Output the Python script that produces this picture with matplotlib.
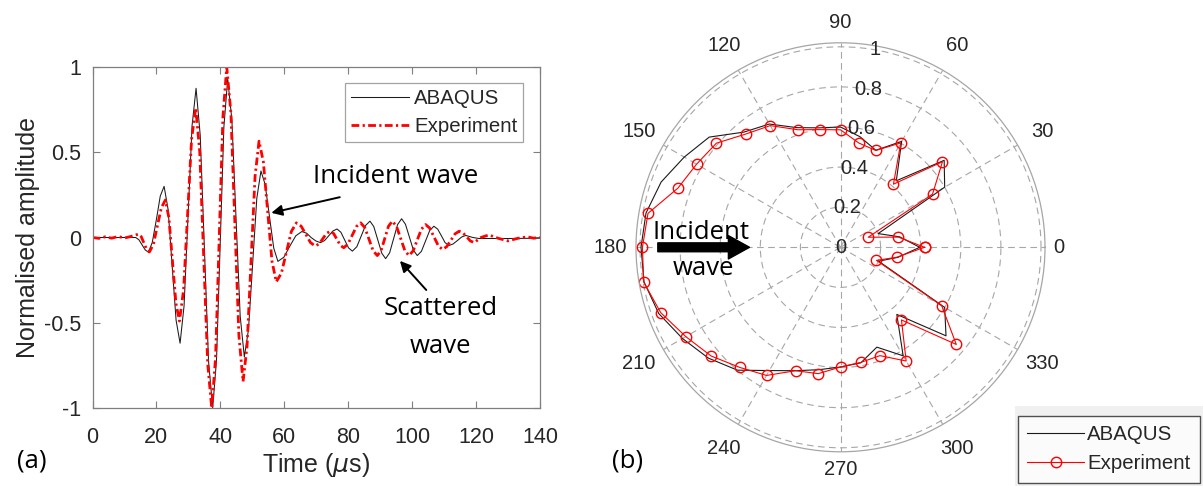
import numpy as np
import matplotlib
matplotlib.use('Agg')
import matplotlib.pyplot as plt
from matplotlib.patches import Rectangle

plt.rcParams['font.family'] = ['Liberation Sans', 'DejaVu Sans']
plt.rcParams['mathtext.fontset'] = 'dejavusans'

# --- (a) time signals (time in us, normalised amplitude)
abaqus_t = [0, 13.5, 14.5, 15.5, 16.5, 17.5, 18.7, 20.0, 21.2, 22.4, 23.65, 24.9, 26.15, 27.4,
            28.65, 29.9, 31.15, 32.4, 33.7, 35.0, 36.3, 37.6, 38.8, 39.95, 41.1, 42.3, 43.6, 44.9,
            46.2, 47.5, 48.8, 50.1, 51.4, 52.7, 54.0, 55.35, 56.7, 58.0, 59.9, 61.75, 63.6, 65.5,
            67.0, 68.4, 69.85, 71.3, 72.6, 73.9, 75.2, 76.5, 77.7, 78.9, 80.1, 81.3, 82.7, 84.05,
            85.4, 86.8, 88.0, 89.25, 90.5, 91.7, 92.95, 94.2, 95.45, 96.7, 97.9, 99.15, 100.4,
            101.6, 102.9, 104.2, 105.5, 106.8, 108.0, 109.15, 110.3, 111.5, 112.8, 114.15, 115.5,
            116.8, 119.0, 121.0, 130.0, 140.0]
abaqus_amp = [0, 0, -0.013, -0.043, -0.073, -0.086, -0.029, 0.107, 0.243, 0.30, 0.165, -0.16,
              -0.485, -0.62, -0.40, 0.13, 0.656, 0.875, 0.60, -0.06, -0.725, -1.0, -0.717, -0.035,
              0.647, 0.93, 0.69, 0.115, -0.461, -0.70, -0.54, -0.155, 0.23, 0.39, 0.312, 0.125,
              -0.062, -0.14, -0.115, -0.05, 0.01, 0.035, 0.025, 0.0, -0.02, -0.03, -0.018, 0.01,
              0.038, 0.05, 0.031, -0.015, -0.061, -0.08, -0.054, 0.008, 0.07, 0.096, 0.064, -0.014,
              -0.092, -0.124, -0.09, -0.007, 0.076, 0.11, 0.078, 0.002, -0.074, -0.106, -0.081,
              -0.02, 0.041, 0.066, 0.049, 0.01, -0.03, -0.047, -0.038, -0.018, 0.003, 0.012, 0.0,
              -0.006, -0.006, -0.004]

exp_t = [0, 2, 4, 6, 8, 10, 12, 14.4, 15.25, 16.1, 16.95, 17.8, 19.05, 20.3, 21.55, 22.8, 23.9,
         25.0, 26.1, 27.2, 28.5, 29.75, 31.0, 32.3, 33.55, 34.8, 36.05, 37.3, 38.5, 39.65, 40.8,
         42.0, 43.3, 44.55, 45.8, 47.1, 48.35, 49.6, 50.85, 52.1, 53.45, 54.8, 56.15, 57.5, 59.1,
         60.65, 62.2, 63.8, 65.3, 66.75, 68.2, 69.7, 70.9, 72.05, 73.2, 74.4, 75.45, 76.5, 77.55,
         78.6, 79.9, 81.25, 82.6, 83.9, 85.2, 86.5, 87.8, 89.1, 90.3, 91.45, 92.6, 93.8, 95.1,
         96.4, 97.7, 99.0, 100.3, 101.6, 102.9, 104.2, 105.5, 106.85, 108.2, 109.5, 110.8, 112.1,
         113.4, 114.7, 115.9, 117.05, 118.2, 119.4, 121.5, 124, 127, 130, 133, 136, 138, 140]
exp_amp = [0.0, -0.005, 0.004, -0.004, 0.006, -0.003, 0.006, 0.02, 0.005, -0.033, -0.07, -0.085,
           -0.04, 0.068, 0.175, 0.22, 0.116, -0.135, -0.386, -0.49, -0.307, 0.135, 0.577, 0.76,
           0.502, -0.12, -0.742, -1.0, -0.707, 0.0, 0.707, 1.0, 0.73, 0.078, -0.575, -0.845,
           -0.638, -0.14, 0.358, 0.565, 0.444, 0.153, -0.139, -0.26, -0.209, -0.087, 0.035, 0.086,
           0.066, 0.018, -0.03, -0.05, -0.037, -0.007, 0.024, 0.037, 0.023, -0.012, -0.046, -0.06,
           -0.039, 0.013, 0.065, 0.086, 0.058, -0.01, -0.078, -0.106, -0.076, -0.005, 0.066,
           0.096, 0.066, -0.005, -0.076, -0.106, -0.079, -0.015, 0.049, 0.076, 0.055, 0.003,
           -0.049, -0.07, -0.054, -0.017, 0.021, 0.037, 0.027, 0.004, -0.02, -0.03, 0.0, 0.015,
           -0.005, -0.02, -0.005, 0.004, -0.004, 0.0]

x_ticks = [0, 20, 40, 60, 80, 100, 120, 140]
y_ticks = [-1, -0.5, 0, 0.5, 1]
y_ticklabels = ['-1', '-0.5', '0', '0.5', '1']

# --- (b) directivity pattern, one value per 10 degrees
angles_deg = [0, 10, 20, 30, 40, 50, 60, 70, 80, 90, 100, 110, 120, 130, 140, 150, 160, 170,
              180, 190, 200, 210, 220, 230, 240, 250, 260, 270, 280, 290, 300, 310, 320, 330,
              340, 350]
abaqus_r = [0.395, 0.30, 0.20, 0.60, 0.675, 0.433, 0.61, 0.515, 0.56, 0.60, 0.605, 0.635, 0.71,
            0.75, 0.855, 0.90, 0.952, 0.985, 0.995, 0.995, 0.965, 0.91, 0.86, 0.80, 0.71, 0.655,
            0.62, 0.597, 0.585, 0.53, 0.625, 0.437, 0.687, 0.60, 0.202, 0.29]
exp_r = [0.419, 0.293, 0.147, 0.530, 0.664, 0.411, 0.601, 0.514, 0.528, 0.586, 0.596, 0.624,
         0.701, 0.737, 0.808, 0.829, 0.863, 0.975, 0.988, 0.997, 0.954, 0.891, 0.843, 0.782,
         0.738, 0.655, 0.640, 0.597, 0.583, 0.575, 0.655, 0.473, 0.754, 0.583, 0.191, 0.285]
theta_labels = [0, 30, 60, 90, 120, 150, 180, 210, 240, 270, 300, 330]
r_rings = [0.2, 0.4, 0.6, 0.8, 1.0]
r_labels = ['0', '0.2', '0.4', '0.6', '0.8', '1']

W, H = 1203, 486
fig = plt.figure(figsize=(W / 100, H / 100), dpi=100)


def fx(px):
    return px / W


def fy(py):
    return 1 - py / H


txt_col = '#262626'
ax_col = '#7f7f7f'
calibri_like = ['Open Sans', 'DejaVu Sans']

# ---------------- (a) ----------------
ax = fig.add_axes([fx(92.5), fy(408), 447.5 / W, 341 / H])
ax.plot(abaqus_t, abaqus_amp, color='#1a1a1a', lw=0.75, label='ABAQUS')
ax.plot(exp_t, exp_amp, color='red', lw=2.0, linestyle=(0, (2.8, 1.2, 0.8, 1.2)),
        label='Experiment')
ax.set_xlim(0, 140)
ax.set_ylim(-1, 1)
ax.set_xticks(x_ticks)
ax.set_yticks(y_ticks)
ax.set_yticklabels(y_ticklabels)
ax.tick_params(direction='in', top=True, right=True, length=5, width=0.8, color=ax_col,
               labelsize=15.5, labelcolor=txt_col)
ax.tick_params(axis='x', pad=14)
ax.tick_params(axis='y', pad=8)
for sp in ax.spines.values():
    sp.set_color(ax_col)
    sp.set_linewidth(0.9)
ax.set_xlabel(r'Time ($\mu$s)', fontsize=18, color=txt_col, labelpad=2)
ax.set_ylabel('Normalised amplitude', fontsize=18, color=txt_col, labelpad=3)

leg = ax.legend(loc='upper right', bbox_to_anchor=(fx(523.3), fy(83)),
                bbox_transform=fig.transFigure, fontsize=14.7, frameon=True, fancybox=False,
                borderpad=0.3, labelspacing=0.45, handlelength=2.85, handletextpad=0.25,
                borderaxespad=0)
leg.get_frame().set_edgecolor('#8c8c8c')
leg.get_frame().set_linewidth(0.9)
for t in leg.get_texts():
    t.set_color(txt_col)

ax.annotate('', xy=(55.1, 0.141), xytext=(78.2, 0.24),
            arrowprops=dict(arrowstyle='-|>', color='black', lw=1.4, mutation_scale=16))
ax.text(69.1, 0.317, 'Incident wave', fontsize=18.5, family=calibri_like, ha='left',
        va='baseline')
ax.annotate('', xy=(95.6, -0.125), xytext=(105.0, -0.32),
            arrowprops=dict(arrowstyle='-|>', color='black', lw=1.4, mutation_scale=16))
ax.text(108.9, -0.457, 'Scattered', fontsize=18.5, family=calibri_like, ha='center',
        va='baseline')
ax.text(108.9, -0.68, 'wave', fontsize=18.5, family=calibri_like, ha='center', va='baseline')

fig.text(fx(32), fy(461), '(a)', fontsize=18.5, family=calibri_like, ha='center', va='center')
fig.text(fx(628), fy(461), '(b)', fontsize=18.5, family=calibri_like, ha='center', va='center')

# ---------------- (b) ----------------
cx, cy, rad = 840.5, 247.3, 204.5
pax = fig.add_axes([fx(cx - rad), fy(cy + rad), 2 * rad / W, 2 * rad / H], projection='polar')
pax.set_ylim(0, 1.02)
th = np.deg2rad(angles_deg + [angles_deg[0]])
l1, = pax.plot(th, abaqus_r + [abaqus_r[0]], color='#1a1a1a', lw=0.8, label='ABAQUS')
l2, = pax.plot(th, exp_r + [exp_r[0]], color='red', lw=0.8, marker='o', ms=7.5, mfc='none',
               mec='red', mew=1.0, label='Experiment')
pax.set_rgrids(r_rings, labels=[''] * len(r_rings))
pax.set_thetagrids(theta_labels, labels=[''] * len(theta_labels))
pax.grid(True, color='#a6a6a6', linestyle=(0, (6, 4)), lw=0.8)
pax.spines['polar'].set_color('#a6a6a6')
pax.spines['polar'].set_linewidth(0.9)
pax.set_facecolor('white')

label_rad = {0: 1.09, 90: 1.12, 180: 1.15, 270: 1.11}
for a in theta_labels:
    pax.text(np.deg2rad(a), label_rad.get(a, 1.16), str(a), fontsize=14.5, color=txt_col,
             ha='center', va='center', clip_on=False)
for rv, lab in zip([0] + r_rings, r_labels):
    pax.text(np.deg2rad(80), rv, lab, fontsize=14.5, color=txt_col, ha='center',
             va='center', zorder=5)

pax.annotate('', xy=(np.pi, 0.44), xytext=(np.pi, 0.925),
             arrowprops=dict(arrowstyle='simple,head_length=0.95,head_width=1.05,tail_width=0.4',
                             color='black', mutation_scale=16))
fig.text(fx(701), fy(232), 'Incident', fontsize=18.5, family=calibri_like, ha='center',
         va='center')
fig.text(fx(703), fy(268), 'wave', fontsize=18.5, family=calibri_like, ha='center',
         va='center')

# grey strip behind the polar legend, as in the exported figure
fig.patches.append(Rectangle((fx(1015), 0), fx(W) - fx(1015), fy(406), transform=fig.transFigure,
                             facecolor='#f0f0f0', edgecolor='none', zorder=0))
leg2 = fig.legend(handles=[l1, l2], loc='upper left', bbox_to_anchor=(fx(1018), fy(416)),
                  fontsize=14.7, frameon=True, fancybox=False, borderpad=0.45,
                  labelspacing=0.5, handlelength=2.8, handletextpad=0.15, borderaxespad=0)
leg2.get_frame().set_edgecolor('#262626')
leg2.get_frame().set_linewidth(1.0)
for t in leg2.get_texts():
    t.set_color(txt_col)

fig.savefig('out.png', dpi=100)
